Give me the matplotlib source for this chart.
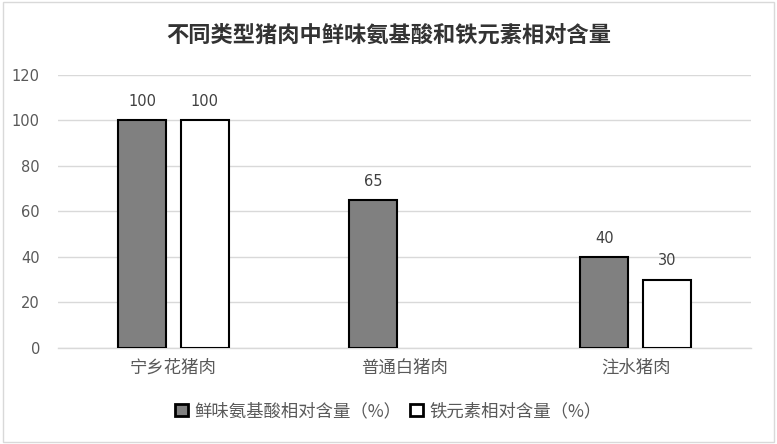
import numpy as np
import matplotlib.pyplot as plt
from matplotlib.patches import Rectangle

plt.rcParams['font.family'] = ['Noto Sans CJK SC', 'DejaVu Sans']

# data
categories = ['宁乡花猪肉', '普通白猪肉', '注水猪肉']
umami_aa = [100, 65, 40]
iron = [100, np.nan, 30]
series_names = ['鲜味氨基酸相对含量（%）', '铁元素相对含量（%）']
title = '不同类型猪肉中鲜味氨基酸和铁元素相对含量'

fig = plt.figure(figsize=(7.77, 4.44), dpi=100)
ax = fig.add_axes([0.0746, 0.2162, 0.892, 0.615])

x = np.arange(len(categories))
w = 0.208
off = 0.135
b1 = ax.bar(x - off, umami_aa, w, color='#808080', edgecolor='black', linewidth=1.5, label=series_names[0], zorder=3)
b2 = ax.bar(x + off, iron, w, color='white', edgecolor='black', linewidth=1.5, label=series_names[1], zorder=3)

for bars, vals in [(b1, umami_aa), (b2, iron)]:
    for rect, v in zip(bars, vals):
        if np.isnan(v):
            continue
        ax.text(rect.get_x() + rect.get_width() / 2, v + 5, f'{v:g}',
                ha='center', va='bottom', fontsize=10.5, color='#404040', family='DejaVu Sans')

ax.set_xlim(-0.5, 2.5)
ax.set_ylim(0, 120)
ax.set_yticks(range(0, 121, 20))
ax.yaxis.grid(True, color='#d9d9d9', linewidth=1)
ax.set_axisbelow(True)
for s in ['top', 'right', 'left']:
    ax.spines[s].set_visible(False)
ax.spines['bottom'].set_color('#d9d9d9')
ax.spines['bottom'].set_linewidth(1)
ax.tick_params(axis='both', length=0)
ax.tick_params(axis='y', labelsize=10.5, labelcolor='#595959', pad=13)
ax.set_yticklabels([str(t) for t in range(0, 121, 20)], family='DejaVu Sans')
ax.set_xticks(x)
ax.set_xticklabels(categories, fontsize=12.5, color='#595959', weight='light')
ax.tick_params(axis='x', pad=8)

fig.text(0.5, 0.921, title, ha='center', va='center', fontsize=16, weight='bold', color='#333333')

leg = fig.legend(handles=[b1, b2], labels=series_names, loc='center', bbox_to_anchor=(0.5, 0.074),
                 ncol=2, frameon=False, fontsize=12.5, labelcolor='#595959',
                 handlelength=0.75, handleheight=0.75, handletextpad=0.35, columnspacing=0.5,
                 prop={'weight': 'light', 'size': 12.5})
for h in leg.legend_handles:
    h.set_linewidth(2)

# thin outer frame
fig.patches.append(Rectangle((0.004, 0.005), 0.992, 0.99, transform=fig.transFigure,
                             fill=False, edgecolor='#d9d9d9', linewidth=1))

fig.savefig('out.png', dpi=100)
